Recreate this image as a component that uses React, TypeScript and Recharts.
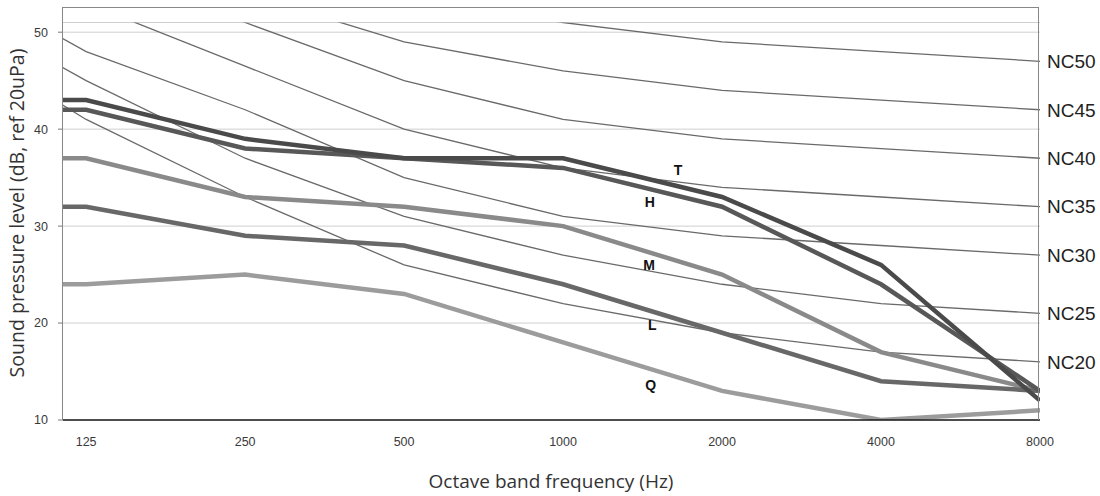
import { LineChart, Line, XAxis, YAxis, CartesianGrid, ReferenceDot } from 'recharts'

// octave band centre frequencies (63 Hz sits left of the visible range)
const freqs = [63, 125, 250, 500, 1000, 2000, 4000, 8000]
const freqTicks = [125, 250, 500, 1000, 2000, 4000, 8000]
const dbTicks = [10, 20, 30, 40, 50]

// measured spectra, dB
const tLevels = [43, 43, 39, 37, 37, 33, 26, 12]
const hLevels = [42, 42, 38, 37, 36, 32, 24, 13]
const mLevels = [37, 37, 33, 32, 30, 25, 17, 13]
const lLevels = [32, 32, 29, 28, 24, 19, 14, 13]
const qLevels = [24, 24, 25, 23, 18, 13, 10, 11]

// noise criterion curves
const ncNames = ['NC50', 'NC45', 'NC40', 'NC35', 'NC30', 'NC25', 'NC20']
const nc50 = [71, 64, 58, 54, 51, 49, 48, 47]
const nc45 = [67, 60, 54, 49, 46, 44, 43, 42]
const nc40 = [64, 57, 51, 45, 41, 39, 38, 37]
const nc35 = [61, 53, 46.5, 40, 36, 34, 33, 32]
const nc30 = [57, 48, 42, 35, 31, 29, 28, 27]
const nc25 = [54, 45, 37, 31, 27, 24, 22, 21]
const nc20 = [51, 41, 33, 26, 22, 19, 17, 16]

const ncCurves = [nc50, nc45, nc40, nc35, nc30, nc25, nc20]

// curve letters, placed by frequency / level
const tags = [
  { text: 'T', freq: 1650, level: 35.8 },
  { text: 'H', freq: 1460, level: 32.5 },
  { text: 'M', freq: 1455, level: 26.0 },
  { text: 'L', freq: 1475, level: 19.8 },
  { text: 'Q', freq: 1465, level: 13.6 },
]

const data = freqs.map((f, i) => {
  const row: Record<string, number> = {
    freq: f,
    T: tLevels[i],
    H: hLevels[i],
    M: mLevels[i],
    L: lLevels[i],
    Q: qLevels[i],
  }
  ncCurves.forEach((c, k) => {
    row[ncNames[k]] = c[i]
  })
  return row
})

const ncEnds = ncCurves.map((c) => c[c.length - 1])

const thick = [
  { key: 'Q', color: '#9c9c9c' },
  { key: 'M', color: '#8a8a8a' },
  { key: 'L', color: '#686868' },
  { key: 'H', color: '#585858' },
  { key: 'T', color: '#4a4a4a' },
]

export default function App() {
  return (
    <div style={{ position: 'absolute', left: 0, top: 0, width: 1100, height: 496, background: '#fff', fontFamily: '"Liberation Sans", Arial, sans-serif' }}>
      <LineChart width={1100} height={496} data={data} margin={{ top: 22.5, right: 0, bottom: 0, left: 23 }}>
        <CartesianGrid horizontal vertical={false} stroke="#cfcfcf" yAxisId="left" />
        <XAxis
          dataKey="freq"
          type="number"
          scale="log"
          domain={[113, 8000]}
          allowDataOverflow
          ticks={freqTicks}
          interval={0}
          height={76}
          tickSize={0}
          tickMargin={17}
          tickLine={false}
          axisLine={{ stroke: '#1a1a1a', strokeWidth: 1.5 }}
          tick={{ fill: '#3a3a3a', fontSize: 12.5 }}
        />
        <YAxis
          yAxisId="left"
          type="number"
          domain={[10, 51]}
          allowDataOverflow
          ticks={dbTicks}
          width={40}
          tickSize={5}
          tickMargin={10}
          axisLine={false}
          tickLine={{ stroke: '#777' }}
          tick={{ fill: '#3a3a3a', fontSize: 12.5 }}
        />
        <YAxis
          yAxisId="right"
          orientation="right"
          type="number"
          domain={[10, 51]}
          allowDataOverflow
          ticks={ncEnds}
          interval={0}
          width={60}
          tickSize={0}
          tickMargin={7}
          axisLine={false}
          tickLine={false}
          tickFormatter={(v: number) => ncNames[ncEnds.indexOf(v)]}
          tick={{ fill: '#222', fontSize: 19 }}
        />
        {ncNames.map((n) => (
          <Line key={n} yAxisId="left" dataKey={n} stroke="#6a6a6a" strokeWidth={1.3} dot={false} isAnimationActive={false} />
        ))}
        {thick.map((s) => (
          <Line key={s.key} yAxisId="left" dataKey={s.key} stroke={s.color} strokeWidth={4.5} dot={false} isAnimationActive={false} />
        ))}
        {tags.map((t) => (
          <ReferenceDot
            key={t.text}
            yAxisId="left"
            x={t.freq}
            y={t.level}
            r={0}
            stroke="none"
            fill="none"
            label={{ value: t.text, position: 'center', fill: '#111', fontSize: 14, fontWeight: 700 }}
          />
        ))}
      </LineChart>
      <div style={{ position: 'absolute', left: 62, top: 7, width: 977, height: 413, borderTop: '1px solid #888', borderLeft: '1px solid #888', borderRight: '1px solid #888', boxSizing: 'border-box', pointerEvents: 'none' }} />
      <div style={{ position: 'absolute', left: 16, top: 213, transform: 'translate(-50%, -50%) rotate(-90deg)', whiteSpace: 'nowrap', fontSize: 19.5, color: '#333', fontFamily: '"Open Sans", sans-serif' }}>
        Sound pressure level (dB, ref 20uPa)
      </div>
      <div style={{ position: 'absolute', left: 551, top: 481, transform: 'translate(-50%, -50%)', whiteSpace: 'nowrap', fontSize: 19, color: '#333', fontFamily: '"Open Sans", sans-serif' }}>
        Octave band frequency (Hz)
      </div>
    </div>
  )
}
